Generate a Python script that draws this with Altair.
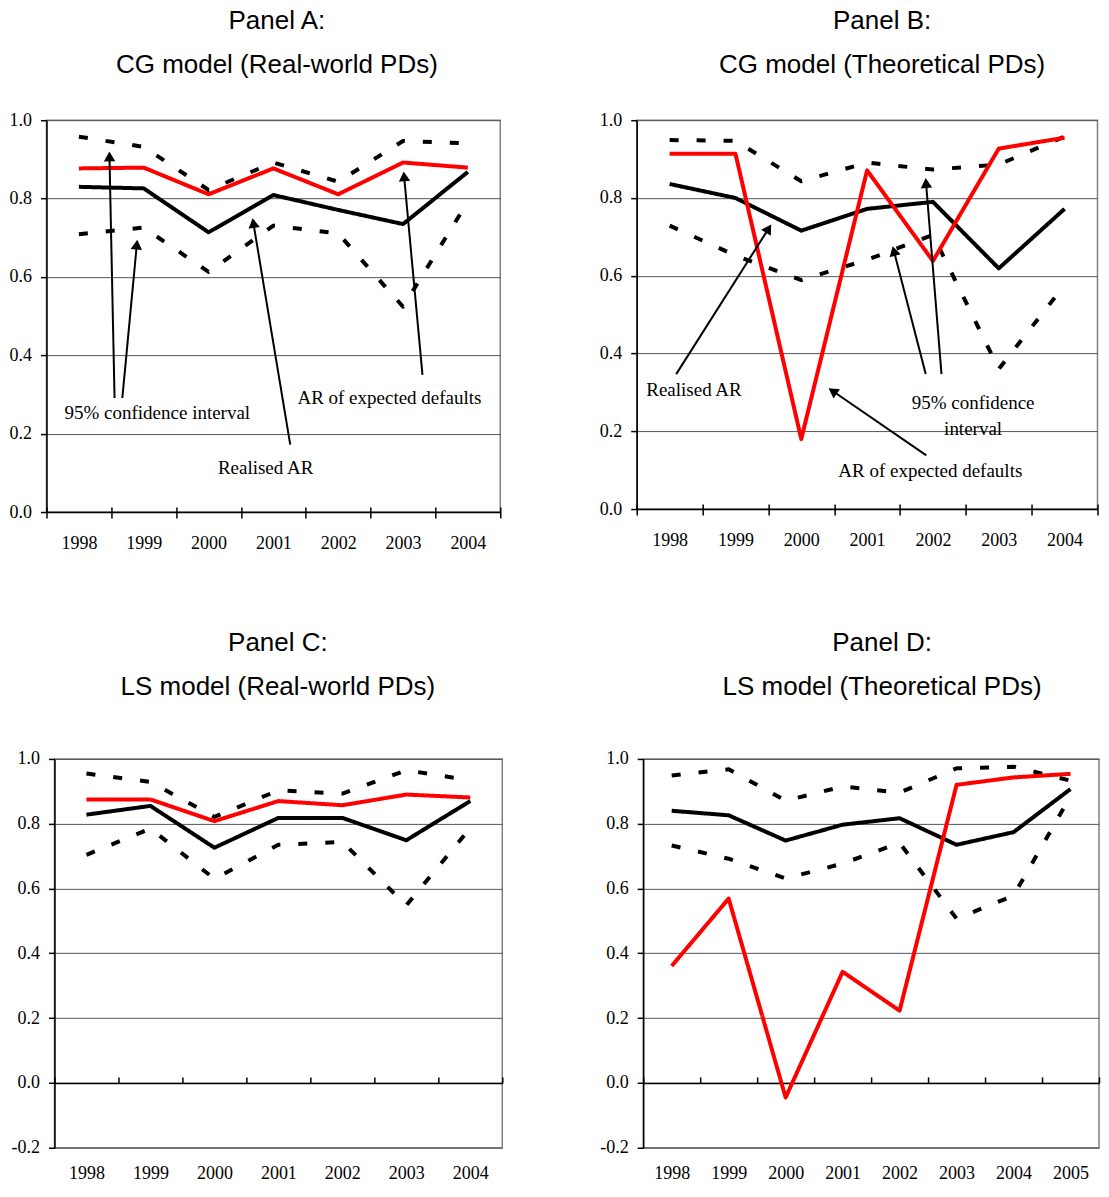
import math
import altair as alt
import pandas as pd

years7 = [1998, 1999, 2000, 2001, 2002, 2003, 2004]
years8 = [1998, 1999, 2000, 2001, 2002, 2003, 2004, 2005]

# Panel A: CG model (Real-world PDs)
a_expected = [0.877, 0.879, 0.811, 0.877, 0.811, 0.892, 0.879]
a_realised = [0.830, 0.826, 0.714, 0.809, 0.771, 0.735, 0.868]
a_upper = [0.958, 0.932, 0.822, 0.892, 0.843, 0.947, 0.941]
a_lower = [0.709, 0.726, 0.613, 0.731, 0.711, 0.524, 0.792]

# Panel B: CG model (Theoretical PDs)
b_expected = [0.914, 0.914, 0.180, 0.871, 0.638, 0.927, 0.955]
b_realised = [0.836, 0.800, 0.716, 0.772, 0.790, 0.619, 0.772]
b_upper = [0.949, 0.947, 0.843, 0.891, 0.873, 0.886, 0.958]
b_lower = [0.729, 0.652, 0.589, 0.641, 0.705, 0.360, 0.576]

# Panel C: LS model (Real-world PDs)
c_expected = [0.875, 0.875, 0.808, 0.870, 0.857, 0.890, 0.881]
c_realised = [0.828, 0.855, 0.726, 0.818, 0.818, 0.749, 0.870]
c_upper = [0.955, 0.929, 0.821, 0.903, 0.893, 0.965, 0.934]
c_lower = [0.704, 0.785, 0.630, 0.735, 0.744, 0.548, 0.787]

# Panel D: LS model (Theoretical PDs)
d_expected = [0.361, 0.569, -0.045, 0.343, 0.223, 0.920, 0.943, 0.954]
d_realised = [0.840, 0.826, 0.748, 0.797, 0.817, 0.735, 0.774, 0.907]
d_upper = [0.949, 0.968, 0.871, 0.915, 0.896, 0.971, 0.976, 0.933]
d_lower = [0.733, 0.692, 0.631, 0.677, 0.741, 0.507, 0.578, 0.885]

# Annotations (data coordinates): label lines, x, y
a_texts = [["95% confidence interval"], ["AR of expected defaults"], ["Realised AR"]]
a_text_x = [1999.21, 2002.79, 2000.88]
a_text_y = [0.252, 0.291, 0.112]
# arrows: tail x, tail y, head x, head y
a_arrows = [
    [1998.55, 0.291, 1998.47, 0.919],
    [1998.67, 0.291, 1998.90, 0.694],
    [2003.30, 0.350, 2003.01, 0.868],
    [2001.26, 0.172, 2000.68, 0.749],
]

b_texts = [["Realised AR"], ["AR of expected defaults"], ["95% confidence", "interval"]]
b_text_x = [1998.37, 2001.96, 2002.61]
b_text_y = [0.307, 0.097, 0.272]
b_arrows = [
    [1998.10, 0.347, 1999.54, 0.731],
    [2001.90, 0.138, 2000.42, 0.310],
    [2001.89, 0.347, 2001.39, 0.675],
    [2002.13, 0.347, 2001.89, 0.850],
]

SERIES = ["CI upper", "CI lower", "Realised AR", "AR of expected defaults"]
COLORS = ["black", "black", "black", "#ff0000"]
DASHES = [[9, 18], [9, 18], [1, 0], [1, 0]]

SERIF = "Liberation Serif"
SANS = "Liberation Sans"

PANELS = {
    "A": dict(years=years7, vals=[a_upper, a_lower, a_realised, a_expected], w=454, h=392,
              ydom=(0.0, 1.0), title=["Panel A:", "CG model (Real-world PDs)"], offset=33, dx=3.5,
              style="bottom", lpad=22, texts=a_texts, tx=a_text_x, ty=a_text_y, arrows=a_arrows),
    "B": dict(years=years7, vals=[b_upper, b_lower, b_realised, b_expected], w=461, h=389,
              ydom=(0.0, 1.0), title=["Panel B:", "CG model (Theoretical PDs)"], offset=33, dx=15,
              style="bottom", lpad=22, texts=b_texts, tx=b_text_x, ty=b_text_y, arrows=b_arrows),
    "C": dict(years=years7, vals=[c_upper, c_lower, c_realised, c_expected], w=448, h=389,
              ydom=(-0.2, 1.0), title=["Panel C:", "LS model (Real-world PDs)"], offset=50, dx=-0.5,
              style="zero", lpad=17, texts=[], tx=[], ty=[], arrows=[]),
    "D": dict(years=years8, vals=[d_upper, d_lower, d_realised, d_expected], w=456, h=389,
              ydom=(-0.2, 1.0), title=["Panel D:", "LS model (Theoretical PDs)"], offset=50, dx=11,
              style="zero", lpad=17, texts=[], tx=[], ty=[], arrows=[]),
}

Y_LABEL = "datum.value < 0 ? '-' + format(-datum.value, '.1f') : format(datum.value, '.1f')"


def panel(key):
    p = PANELS[key]
    years = p["years"]
    w, h = p["w"], p["h"]
    y0, y1 = p["ydom"]
    x0, x1 = years[0] - 0.5, years[-1] + 0.5
    xscale = alt.Scale(domain=[x0, x1], nice=False, zero=False)
    yscale = alt.Scale(domain=[y0, y1], nice=False, zero=False)
    sx = w / (x1 - x0)
    sy = h / (y1 - y0)

    rows = []
    for name, vals in zip(SERIES, p["vals"]):
        for yr, v in zip(years, vals):
            rows.append({"year": yr, "value": v, "series": name})
    df = pd.DataFrame(rows)

    nticks = int(round((y1 - y0) / 0.2)) + 1
    yvals = [round(y0 + 0.2 * i, 1) for i in range(nticks)]

    zero_style = p["style"] == "zero"
    bottom_axis = alt.Axis(
        orient="bottom", values=years, format="d", title=None, grid=False,
        ticks=False, tickSize=0, domain=not zero_style, domainColor="black", domainWidth=1.5,
        labelFont=SERIF, labelFontSize=18, labelColor="black",
        labelPadding=p["lpad"],
    )
    y_axis = alt.Axis(
        values=yvals, labelExpr=Y_LABEL, title=None, grid=True, gridColor="#555555", gridWidth=1,
        domainColor="black", domainWidth=1.5, tickColor="black", tickWidth=1.5, tickSize=6,
        labelFont=SERIF, labelFontSize=18, labelColor="black", labelPadding=9,
    )

    lines = alt.Chart(df).mark_line(strokeWidth=4, strokeJoin="round").encode(
        x=alt.X("year:Q", scale=xscale, axis=bottom_axis),
        y=alt.Y("value:Q", scale=yscale, axis=y_axis),
        color=alt.Color("series:N", scale=alt.Scale(domain=SERIES, range=COLORS), legend=None),
        strokeDash=alt.StrokeDash("series:N", scale=alt.Scale(domain=SERIES, range=DASHES), legend=None),
    )

    bounds = pd.DataFrame({"t": [x0 + i for i in range(len(years) + 1)]})
    if zero_style:
        off = -(h * y1 / (y1 - y0))
        tick_axis = alt.Axis(orient="top", values=list(bounds["t"]), labels=False, title=None, grid=False,
                             domain=True, domainColor="black", domainWidth=1.5,
                             ticks=True, tickSize=6, tickColor="black", tickWidth=1.5, offset=off)
    else:
        tick_axis = alt.Axis(orient="top", values=list(bounds["t"]), labels=False, title=None, grid=False,
                             domain=False, ticks=True, tickSize=11, tickColor="black", tickWidth=1.5,
                             offset=-(h + 6))
    ticks = alt.Chart(bounds).mark_point(opacity=0, size=1).encode(
        x=alt.X("t:Q", scale=xscale, axis=tick_axis),
        y=alt.value(0),
    )

    layers = [lines, ticks]

    if p["arrows"]:
        rrows, hrows = [], []
        back = 4.5
        for tx_, ty_, hx, hy in p["arrows"]:
            dxp = (hx - tx_) * sx
            dyp = (hy - ty_) * sy
            L = math.hypot(dxp, dyp)
            ux, uy = dxp / L, dyp / L
            cx = hx - ux * back / sx
            cy = hy - uy * back / sy
            ang = math.degrees(math.atan2(dxp, dyp)) % 360
            rrows.append({"x": tx_, "y": ty_, "x2": cx, "y2": cy})
            hrows.append({"x": cx, "y": cy, "angle": ang})
        rdf = pd.DataFrame(rrows)
        hdf = pd.DataFrame(hrows)
        rules = alt.Chart(rdf).mark_rule(color="black", strokeWidth=2).encode(
            x=alt.X("x:Q", scale=xscale, axis=None),
            y=alt.Y("y:Q", scale=yscale, axis=None),
            x2="x2:Q", y2="y2:Q",
        )
        heads = alt.Chart(hdf).mark_point(shape="triangle-up", filled=True, size=130, color="black",
                                          opacity=1).encode(
            x=alt.X("x:Q", scale=xscale, axis=None),
            y=alt.Y("y:Q", scale=yscale, axis=None),
            angle=alt.Angle("angle:Q", scale=None),
        )
        layers += [rules, heads]

    if p["texts"]:
        tdf = pd.DataFrame({"label": p["texts"], "x": p["tx"], "y": p["ty"]})
        texts = alt.Chart(tdf).mark_text(font=SERIF, fontSize=19, color="black", align="center",
                                         baseline="middle", lineHeight=26).encode(
            x=alt.X("x:Q", scale=xscale, axis=None),
            y=alt.Y("y:Q", scale=yscale, axis=None),
            text="label:N",
        )
        layers.append(texts)

    return alt.layer(*layers).resolve_axis(x="independent", y="independent").properties(
        width=w, height=h,
        title=alt.TitleParams(p["title"], font=SANS, fontSize=26, fontWeight="normal", color="black",
                              lineHeight=44, anchor="middle", frame="group", offset=p["offset"], dx=p["dx"]),
    )


def spacer(width):
    return alt.Chart(pd.DataFrame({"s": [0]})).mark_point(opacity=0, size=1).encode(
        x=alt.value(0.5), y=alt.value(0.5)
    ).properties(width=width, height=1, view=alt.ViewBackground(stroke="transparent"))


row1 = alt.hconcat(alt.hconcat(spacer(1), panel("A"), spacing=0), panel("B"), spacing=95.5)
row2 = alt.hconcat(alt.hconcat(spacer(2.5), panel("C"), spacing=0), panel("D"), spacing=94)
chart = alt.concat(row1, row2, columns=1, align="none", spacing=76).properties(
    padding={"left": -3.5, "top": -1, "right": 0, "bottom": -3}
).configure_view(stroke="#808080", strokeWidth=1.5)

chart.save("out.html", embed_options={"renderer": "svg", "actions": False})
